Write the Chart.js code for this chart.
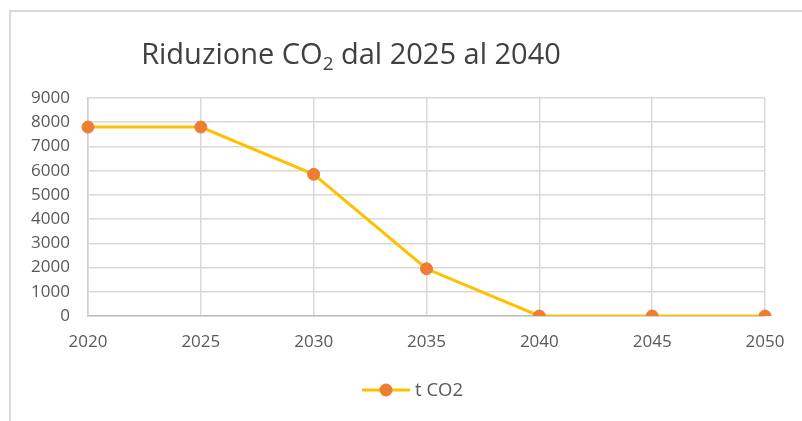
<!DOCTYPE html>
<html>
<head>
<meta charset="utf-8">
<script src="https://cdn.jsdelivr.net/npm/chart.js@4.4.0/dist/chart.umd.min.js"></script>
<style>
html,body{margin:0;padding:0;background:#fff;}
#wrap{position:relative;width:802px;height:421px;}
</style>
</head>
<body>
<div id="wrap"><canvas id="c" width="802" height="421"></canvas></div>
<script>
const categories = ['2020','2025','2030','2035','2040','2045','2050'];
const tCO2 = [7800, 7800, 5850, 1950, 0, 0, 0];
const seriesName = 't CO2';
const titleParts = ['Riduzione CO', '2', ' dal 2025 al 2040'];
const yMin = 0, yMax = 9000, yStep = 1000;

const FONT = '"Open Sans", "Noto Sans", sans-serif';
const LINE = '#FFC000', MARK = '#ED7D31', TXT = '#595959';

const decor = {
  id: 'decor',
  beforeDraw(chart) {
    const ctx = chart.ctx;
    ctx.save();
    ctx.strokeStyle = '#d9d9d9';
    ctx.lineWidth = 2;
    ctx.strokeRect(10, 11, 900, 600);
    ctx.restore();
  },
  afterDraw(chart) {
    const ctx = chart.ctx;
    ctx.save();
    // title with subscript
    const size = 29;
    ctx.fillStyle = '#404040';
    ctx.textBaseline = 'alphabetic';
    ctx.font = size + 'px ' + FONT;
    const w0 = ctx.measureText(titleParts[0]).width;
    const w2 = ctx.measureText(titleParts[2]).width;
    ctx.font = (size * 0.65) + 'px ' + FONT;
    const w1 = ctx.measureText(titleParts[1]).width;
    const total = w0 + w1 + w2;
    let x = 351 - total / 2;
    const base = 64;
    ctx.font = size + 'px ' + FONT;
    ctx.fillText(titleParts[0], x, base); x += w0;
    ctx.font = (size * 0.65) + 'px ' + FONT;
    ctx.fillText(titleParts[1], x, base + 6); x += w1;
    ctx.font = size + 'px ' + FONT;
    ctx.fillText(titleParts[2], x, base);
    // legend
    const ly = 390;
    ctx.strokeStyle = LINE; ctx.lineWidth = 3;
    ctx.beginPath(); ctx.moveTo(362, ly); ctx.lineTo(410, ly); ctx.stroke();
    ctx.fillStyle = MARK;
    ctx.beginPath(); ctx.arc(386, ly, 6.5, 0, Math.PI * 2); ctx.fill();
    ctx.fillStyle = TXT;
    ctx.font = '18.5px ' + FONT;
    ctx.textBaseline = 'middle';
    ctx.fillText(seriesName, 415, ly + 1);
    ctx.restore();
  }
};

new Chart(document.getElementById('c'), {
  type: 'line',
  data: {
    labels: categories,
    datasets: [{
      label: seriesName,
      data: tCO2,
      borderColor: LINE,
      borderWidth: 3,
      backgroundColor: MARK,
      pointBackgroundColor: MARK,
      pointBorderColor: MARK,
      pointRadius: 6,
      pointBorderWidth: 1,
      tension: 0,
      fill: false
    }]
  },
  options: {
    responsive: false,
    animation: false,
    events: [],
    layout: { padding: { top: 98, right: 37, left: 0, bottom: 0 } },
    plugins: { legend: { display: false }, title: { display: false }, tooltip: { enabled: false } },
    scales: {
      x: {
        offset: false,
        grid: { color: '#d9d9d9', lineWidth: 1.5, drawTicks: false },
        border: { color: '#bfbfbf', width: 1.5 },
        ticks: { color: TXT, font: { family: FONT, size: 17 }, padding: 16, maxRotation: 0, autoSkip: false },
        afterFit(s) { s.height = 105; }
      },
      y: {
        min: yMin, max: yMax,
        grid: { color: '#d9d9d9', lineWidth: 1.5, drawTicks: false },
        border: { color: '#d0d0d0', width: 1.5 },
        ticks: { stepSize: yStep, color: TXT, font: { family: FONT, size: 17 }, padding: 18,
                 callback: (v) => String(v) },
        afterFit(s) { s.width = 88; }
      }
    }
  },
  plugins: [decor]
});
</script>
</body>
</html>
